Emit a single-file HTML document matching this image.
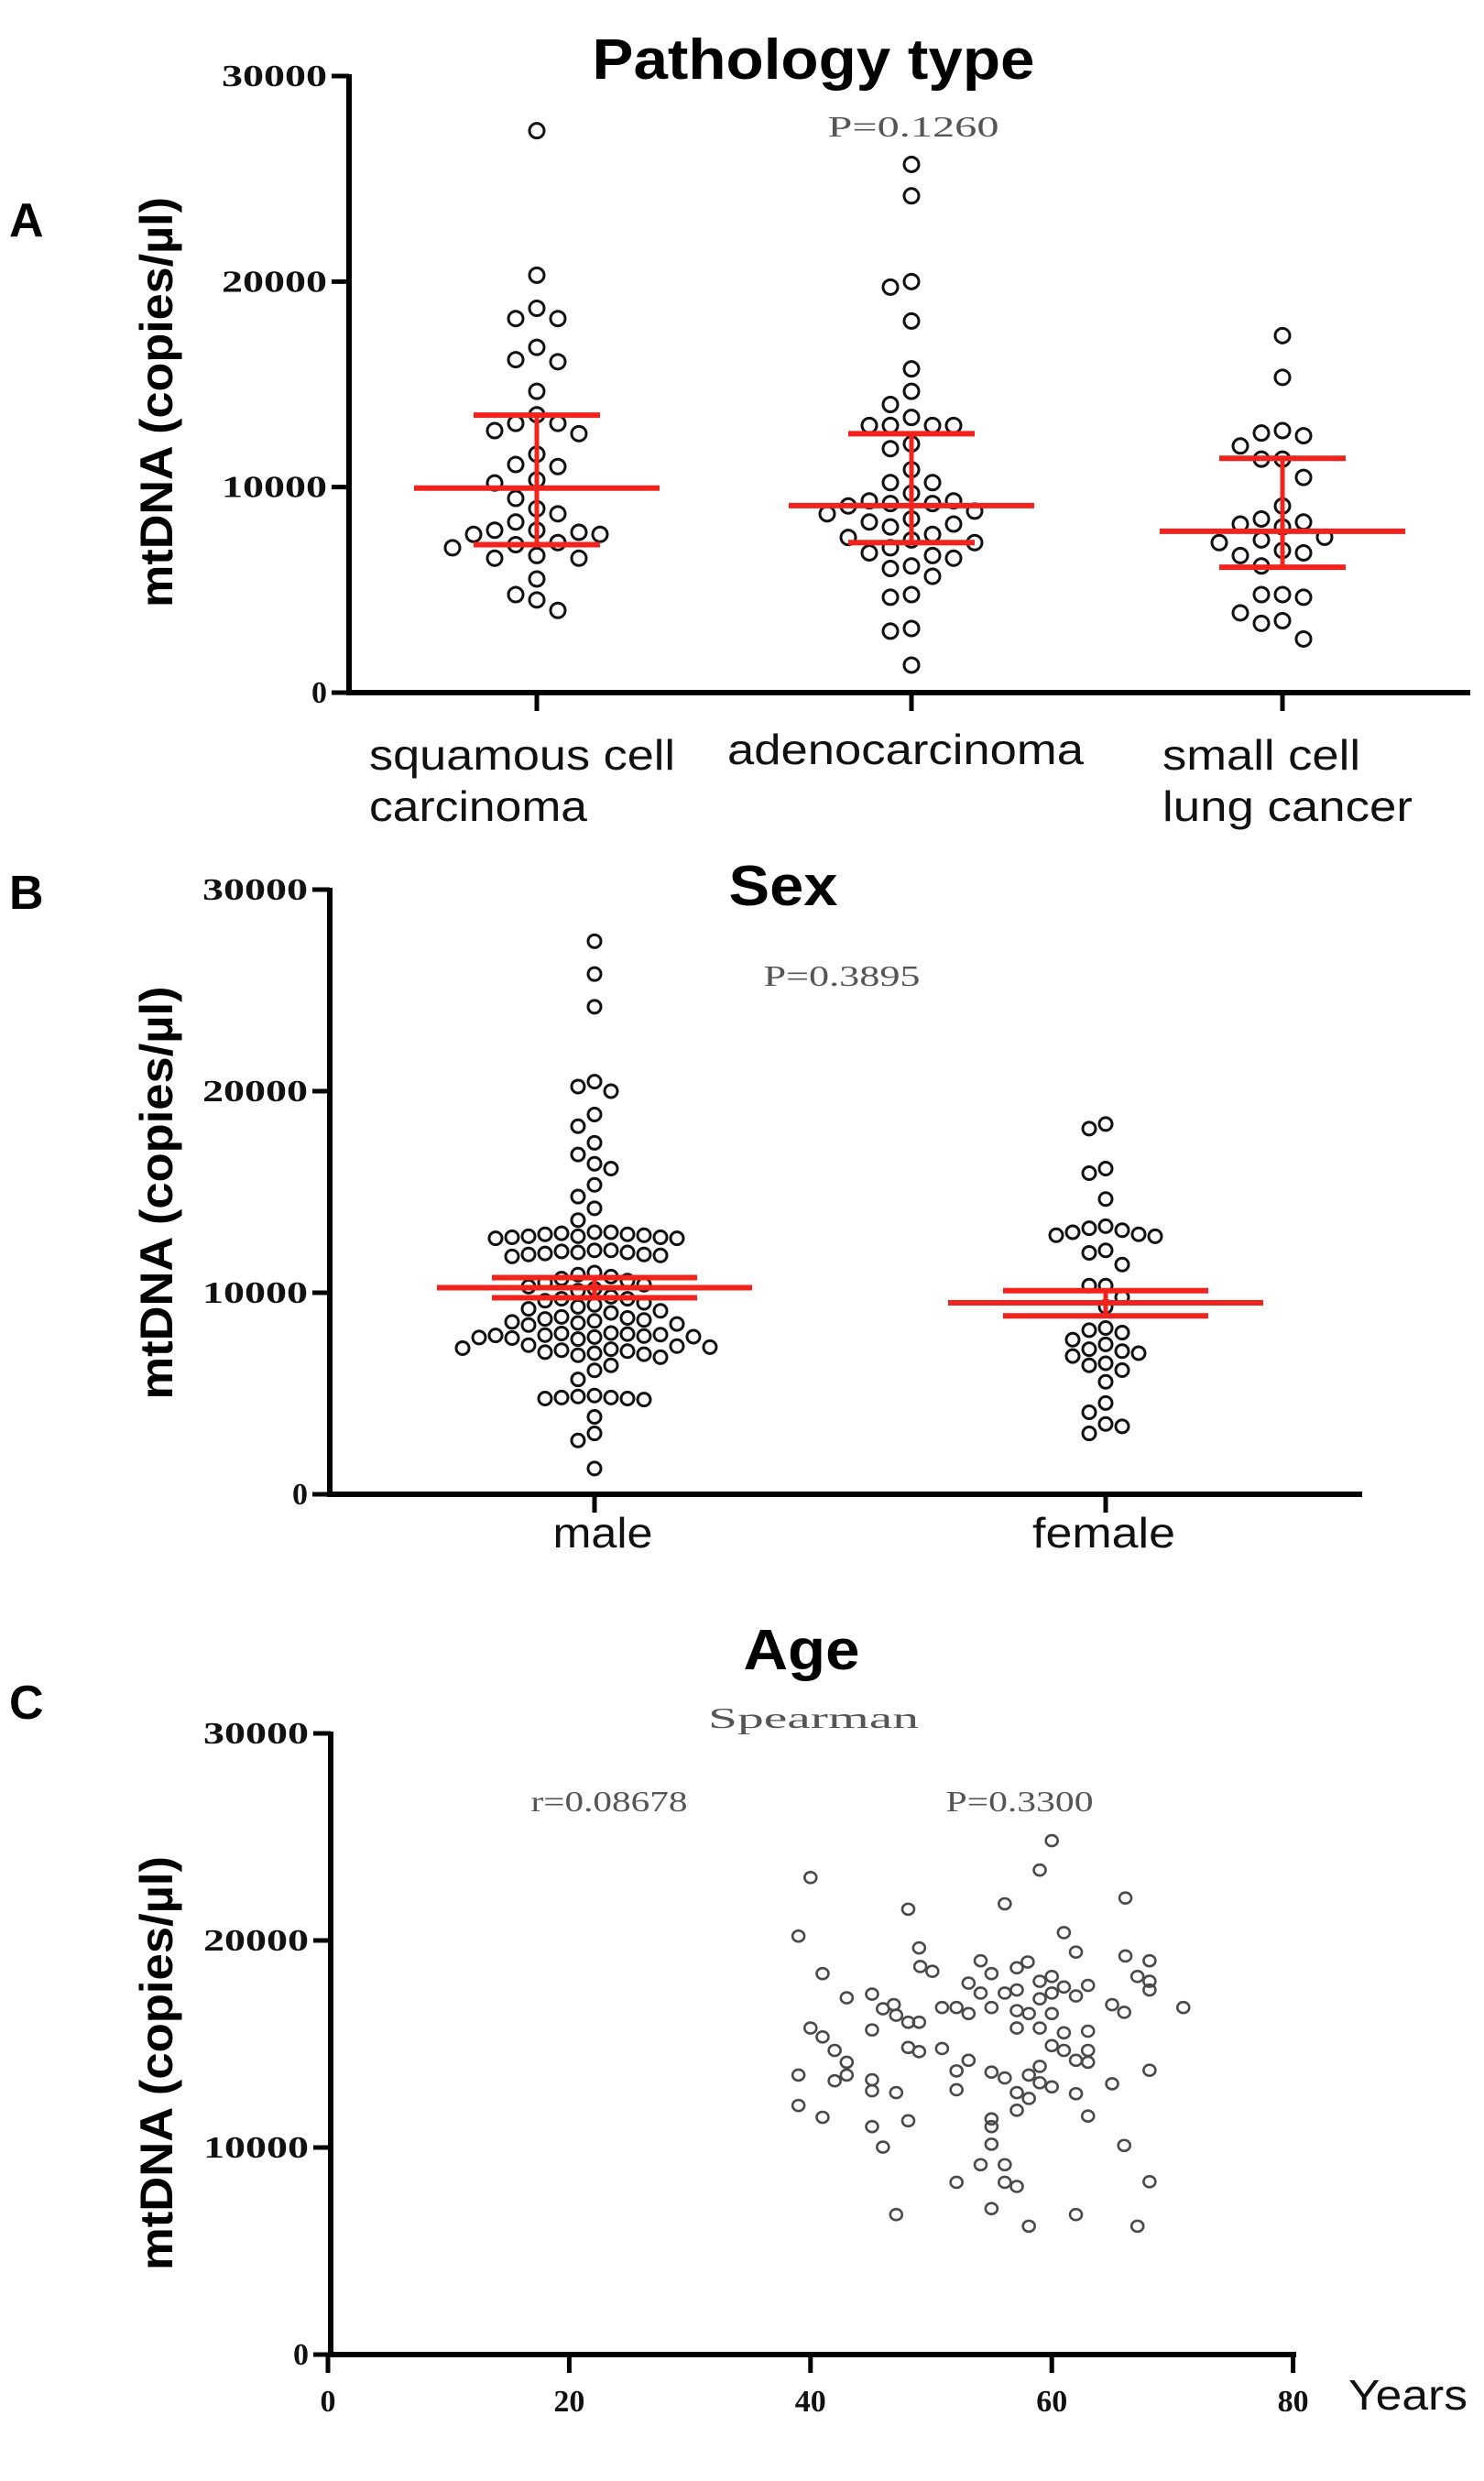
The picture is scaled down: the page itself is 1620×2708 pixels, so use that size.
<!DOCTYPE html>
<html><head><meta charset="utf-8">
<style>
html,body{margin:0;padding:0;background:#fff;}
svg{display:block;}
.tick{font-family:"Liberation Serif",serif;font-weight:bold;font-size:34px;fill:#111;}
.ttl{font-family:"Liberation Sans",sans-serif;font-weight:bold;fill:#000;}
.cat{font-family:"Liberation Sans",sans-serif;font-size:46px;fill:#111;}
.stat{font-family:"Liberation Serif",serif;font-size:32px;fill:#555;}
</style></head>
<body>
<svg id="fig" width="1620" height="2708" viewBox="0 0 1620 2708" xmlns="http://www.w3.org/2000/svg">
<rect width="1620" height="2708" fill="#fff"/>
<text class="ttl" x="10" y="258" font-size="52">A</text>
<text class="ttl" x="10" y="992" font-size="52">B</text>
<text class="ttl" x="10" y="1876" font-size="52">C</text>
<text class="ttl" x="888" y="86" font-size="62" text-anchor="middle" textLength="483" lengthAdjust="spacingAndGlyphs">Pathology type</text>
<text class="ttl" x="855" y="988" font-size="62" text-anchor="middle" textLength="119" lengthAdjust="spacingAndGlyphs">Sex</text>
<text class="ttl" x="875" y="1822" font-size="62" text-anchor="middle" textLength="127" lengthAdjust="spacingAndGlyphs">Age</text>
<text class="stat" x="888" y="1886" font-size="46" text-anchor="middle" textLength="230" lengthAdjust="spacingAndGlyphs">Spearman</text>
<text class="stat" x="997" y="149" text-anchor="middle" textLength="187" lengthAdjust="spacingAndGlyphs">P=0.1260</text>
<text class="stat" x="919" y="1076" text-anchor="middle" textLength="171" lengthAdjust="spacingAndGlyphs">P=0.3895</text>
<text class="stat" x="665" y="1977" text-anchor="middle" textLength="171" lengthAdjust="spacingAndGlyphs">r=0.08678</text>
<text class="stat" x="1113" y="1977" text-anchor="middle" textLength="161" lengthAdjust="spacingAndGlyphs">P=0.3300</text>
<text class="ttl" font-size="50" text-anchor="middle" transform="translate(188,439) rotate(-90)" textLength="448" lengthAdjust="spacingAndGlyphs">mtDNA (copies/µl)</text>
<text class="ttl" font-size="50" text-anchor="middle" transform="translate(188,1302) rotate(-90)" textLength="451" lengthAdjust="spacingAndGlyphs">mtDNA (copies/µl)</text>
<text class="ttl" font-size="50" text-anchor="middle" transform="translate(188,2252) rotate(-90)" textLength="452" lengthAdjust="spacingAndGlyphs">mtDNA (copies/µl)</text>
<text class="cat" x="403" y="840" textLength="334" lengthAdjust="spacingAndGlyphs">squamous cell</text>
<text class="cat" x="403" y="896" textLength="238" lengthAdjust="spacingAndGlyphs">carcinoma</text>
<text class="cat" x="794" y="834" textLength="389" lengthAdjust="spacingAndGlyphs">adenocarcinoma</text>
<text class="cat" x="1269" y="840" textLength="216" lengthAdjust="spacingAndGlyphs">small cell</text>
<text class="cat" x="1269" y="896" textLength="273" lengthAdjust="spacingAndGlyphs">lung cancer</text>
<text class="cat" x="658" y="1689" text-anchor="middle" textLength="109" lengthAdjust="spacingAndGlyphs">male</text>
<text class="cat" x="1205" y="1689" text-anchor="middle" textLength="156" lengthAdjust="spacingAndGlyphs">female</text>
<text class="cat" x="1472" y="2630" font-size="50" textLength="130" lengthAdjust="spacingAndGlyphs">Years</text>
<g id="plots"></g>
</svg>
<script>
const yTicks = [0, 10000, 20000, 30000];
const yTickLabels = ["0", "10000", "20000", "30000"];
const pathCategories = ["squamous cell carcinoma", "adenocarcinoma", "small cell lung cancer"];
const squamousValues = [27340,20310,18700,18200,18200,16800,16200,16100,14660,13520,13100,12750,12600,13100,11600,11100,11000,10350,10200,9450,8950,8700,8300,7900,7800,7700,7700,7900,7300,7200,7050,6670,6540,6540,5530,4770,4510,4000];
const adenoValues = [25700,24170,20000,19730,18080,15750,14660,14020,13390,13000,13000,13000,13000,12100,11870,10850,10220,10220,9700,9330,9330,9200,9200,9080,8830,8700,8450,8300,8200,8060,7700,7550,7430,7300,7050,6800,6670,6540,6160,6040,5660,4770,4640,3120,2990,1340];
const smallCellValues = [17370,15340,12750,12630,12500,12000,11360,11360,10470,9080,8450,8300,8200,8060,7560,7430,7300,6920,6800,6670,6160,4770,4770,4640,3880,3500,3370,2610];
const pathCenter = [9950, 9100, 7850];
const pathUpper = [13500, 12600, 11400];
const pathLower = [7200, 7300, 6100];
const sexCategories = ["male", "female"];
const maleValues = [27440,25810,24190,20470,20230,20000,18840,18260,17440,16860,16400,16160,15350,14770,14190,13600,
 13000,12950,12900,12850,12800,12800,12750,12750,12700,12700,12900,13000,
 12100,12050,12000,11950,11900,11850,11800,12100,11900,12000,
 11000,10900,10800,10700,10600,10500,10400,10300,10200,10100,
 9800,9700,9600,9500,9400,9300,9200,9100,9000,9700,
 8800,8750,8700,8650,8600,8550,8500,8450,8400,
 8000,7980,7950,7920,7900,7880,7850,7820,7800,7780,7750,7700,
 7400,7350,7300,7250,7200,7150,7100,7050,7000,6950,6900,6800,
 6400,6150,5700,4900,4850,4800,4800,4750,4750,4700,3840,3020,2670,1280];
const femaleValues = [18370,18140,16160,15930,14650,13300,13200,13100,13000,12900,12850,12800,12100,11980,11400,10350,10350,9770,9300,8250,8140,8020,7670,7440,7200,7100,7000,6860,6500,6400,6160,5580,4530,4070,3490,3370,3020];
const sexMean = [10250, 9500];
const sexUpper = [10750, 10100];
const sexLower = [9750, 8850];
const ageTicks = [0, 20, 40, 60, 80];
const ageTickLabels = ["0", "20", "40", "60", "80"];
const ages = [60,59,40,66.1,56.1,48.1,39,61,62,49,66.1,68.1,54.1,49.1,50.1,58,57.1,55,41,60,67.1,59,53.1,68.1,63,61,57.1,54.1,56.1,60,62,68.1,43,45.1,59,46.9,46,50.9,52.1,55,65,70.9,66,53.1,57.1,58.1,60,47.1,48.1,49,40,45.1,57.1,59,61,63,41,60,61,63,42,50.9,48.1,49,62,63,43,53.1,59,52.1,68.1,39,55,56.1,43,58.1,42,45.1,65,59,60,45.1,52.1,47.1,57.1,62,58.1,57.1,55,55,39,41,63,48.1,45.1,46,55,66,54.1,56.1,52.1,56.1,57.1,68.1,55,47.1,62,58.1,67.1];
const ageValues = [24820,23400,23040,22050,21770,21510,20210,20380,19440,19640,19250,19020,19020,18740,18510,18960,18680,18400,18400,18260,18260,18030,17940,18030,17830,17750,17610,17460,17460,17460,17320,17610,17230,17410,17180,16900,16700,16760,16760,16760,16900,16760,16530,16470,16610,16470,16470,16390,16050,16050,15770,15680,15770,15770,15540,15620,15340,14920,14690,14690,14690,14780,14830,14630,14210,14120,14120,14210,13920,13700,13730,13500,13640,13360,13500,13500,13220,13270,13080,13130,12930,12740,12790,12650,12650,12600,12370,11800,11380,11010,12030,11460,11520,11290,11010,10020,10160,10100,9170,9170,8320,8320,8120,8350,7050,6760,6760,6200,6200];

const NS = "http://www.w3.org/2000/svg";
const root = document.getElementById("plots");
function mk(tag, attrs, parent) {
  const e = document.createElementNS(NS, tag);
  for (const k in attrs) e.setAttribute(k, attrs[k]);
  (parent || root).appendChild(e);
  return e;
}
function yScaleFor(y0, y30) { return v => y0 + (y30 - y0) * v / 30000; }

function drawYAxis(prefix, axX, y0, y30, xEnd) {
  const ys = yScaleFor(y0, y30);
  const ax = mk("line", {x1: axX, y1: y30 - 2, x2: axX, y2: y0 + 3, stroke: "#000", "stroke-width": 6});
  
  
  const bx = mk("line", {x1: axX - 3, y1: y0, x2: xEnd, y2: y0, stroke: "#000", "stroke-width": 6});
  
  
  yTicks.forEach((t, i) => {
    const tk = mk("line", {x1: axX - 19, y1: ys(t), x2: axX, y2: ys(t), stroke: "#000", "stroke-width": 5});
    
    
    const lb = mk("text", {x: axX - 24, y: ys(t) + 11, "text-anchor": "end", class: "tick"});
    lb.textContent = yTickLabels[i];
    if (yTickLabels[i].length > 1) { lb.setAttribute("textLength", 23 * yTickLabels[i].length); lb.setAttribute("lengthAdjust", "spacingAndGlyphs"); }
    
    
  });
  return ys;
}

function swarm(values, cx, ys, prefix, step, r) {
  const sorted = values.slice().sort((a, b) => b - a);
  const placed = [];
  sorted.forEach(v => {
    const y = ys(v);
    let best = null;
    for (let k = 0; k < 40 && best === null; k++) {
      const cands = k === 0 ? [0] : [-k * step, k * step];
      for (const off of cands) {
        const ok = placed.every(p => Math.hypot(p.x - (cx + off), p.y - y) >= step - 0.5);
        if (ok) { best = cx + off; break; }
      }
    }
    placed.push({x: best, y: y});
    const c = mk("circle", {cx: best, cy: y, r: r, fill: "none", stroke: "#111", "stroke-width": 3});
    
    
  });
}

function errBar(prefix, cx, ys, mid, up, lo, halfMid, halfBar) {
  const col = "#f2231c";
  const v = mk("line", {x1: cx, y1: ys(up), x2: cx, y2: ys(lo), stroke: col, "stroke-width": 5});
  
  
  const m = mk("line", {x1: cx - halfMid, y1: ys(mid), x2: cx + halfMid, y2: ys(mid), stroke: col, "stroke-width": 6});
  
  
  const u = mk("line", {x1: cx - halfBar, y1: ys(up), x2: cx + halfBar, y2: ys(up), stroke: col, "stroke-width": 6});
  
  
  const l = mk("line", {x1: cx - halfBar, y1: ys(lo), x2: cx + halfBar, y2: ys(lo), stroke: col, "stroke-width": 6});
  
  
}

function xTick(prefix, x, y0) {
  const t = mk("line", {x1: x, y1: y0, x2: x, y2: y0 + 20, stroke: "#000", "stroke-width": 5});
  
  
}

(function(){
  const y0 = 756, y30 = 83, axX = 381;
  const ys = drawYAxis("pathology", axX, y0, y30, 1605);
  const cxs = [586, 995, 1400];
  const sets = [squamousValues, adenoValues, smallCellValues];
  pathCategories.forEach((c, i) => {
    xTick("pathology", cxs[i], y0);
    swarm(sets[i], cxs[i], ys, "pathology-" + i, 23, 8);
    errBar("pathology-" + i, cxs[i], ys, pathCenter[i], pathUpper[i], pathLower[i], 134, 69);
  });
})();

(function(){
  const y0 = 1631, y30 = 971, axX = 360;
  const ys = drawYAxis("sex", axX, y0, y30, 1487);
  const cxs = [649, 1207];
  const sets = [maleValues, femaleValues];
  sexCategories.forEach((c, i) => {
    xTick("sex", cxs[i], y0);
    swarm(sets[i], cxs[i], ys, "sex-" + i, 18, 7);
    errBar("sex-" + i, cxs[i], ys, sexMean[i], sexUpper[i], sexLower[i], 172, 112);
  });
})();

(function(){
  const y0 = 2570, y30 = 1892, axX = 361;
  const ys = drawYAxis("age", axX, y0, y30, 1415);
  const xs = a => 358 + a * 13.17;
  ageTicks.forEach((t, i) => {
    xTick("age", xs(t), y0);
    const lb = mk("text", {x: xs(t), y: 2632, "text-anchor": "middle", class: "tick"});
    lb.textContent = ageTickLabels[i];
    
    
  });
  ages.forEach((a, i) => {
    const e = mk("ellipse", {cx: xs(a), cy: ys(ageValues[i]), rx: 6.5, ry: 6, fill: "none", stroke: "#4a4a4a", "stroke-width": 2.6});
    
    
  });
})();
</script>
</body></html>
